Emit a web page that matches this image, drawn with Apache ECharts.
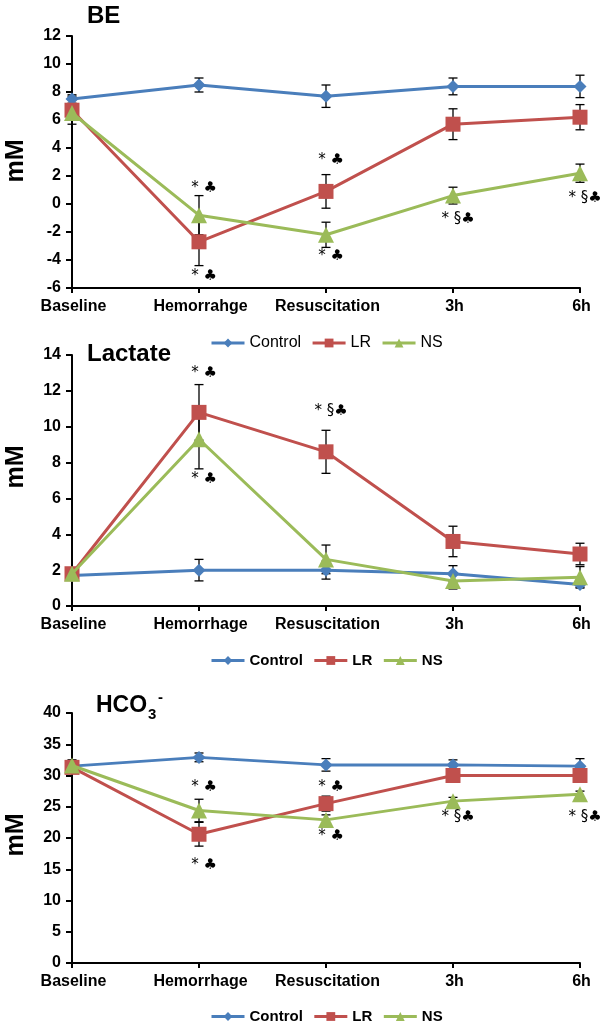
<!DOCTYPE html>
<html><head><meta charset="utf-8">
<script src="https://cdn.jsdelivr.net/npm/echarts@6/dist/echarts.min.js"></script>
<style>html,body{margin:0;padding:0;background:#fff}#c{width:600px;height:1027px}</style>
</head><body><div id="c"></div>
<script>
// ---- categories ----
const catBE = ['Baseline', 'Hemorrahge', 'Resuscitation', '3h', '6h'];
const catLac = ['Baseline', 'Hemorrhage', 'Resuscitation', '3h', '6h'];
const catHCO = ['Baseline', 'Hemorrhage', 'Resuscitation', '3h', '6h'];
const seriesNames = ['Control', 'LR', 'NS'];

// ---- BE ----
const beControl = [7.5, 8.5, 7.7, 8.4, 8.4];
const beControlErr = [0.3, 0.5, 0.8, 0.6, 0.8];
const beLR = [6.7, -2.7, 0.9, 5.7, 6.2];
const beLRErr = [1.0, 1.7, 1.2, 1.1, 0.9];
const beNS = [6.5, -0.8, -2.2, 0.6, 2.2];
const beNSErr = [0.5, 1.4, 0.9, 0.6, 0.65];
const beAxis = [-6, 12, 2];
const beNotes = [[1, 1.1], [1, -5.15], [2, 3.15], [2, -3.7], [3, -1.1], [4, 0.4]];
const beNoteText = ['* \u2663', '* \u2663', '* \u2663', '* \u2663', '* \u00a7\u2663', '* \u00a7\u2663'];

// ---- Lactate ----
const lacControl = [1.7, 2.0, 2.0, 1.8, 1.2];
const lacControlErr = [0.2, 0.6, 0.5, 0.45, 0.15];
const lacLR = [1.8, 10.8, 8.6, 3.6, 2.9];
const lacLRErr = [0.2, 1.55, 1.2, 0.85, 0.6];
const lacNS = [1.8, 9.3, 2.6, 1.4, 1.6];
const lacNSErr = [0.2, 1.65, 0.8, 0.45, 0.6];
const lacAxis = [0, 14, 2];
const lacNotes = [[1, 13.0], [1, 7.1], [2, 10.85]];
const lacNoteText = ['* \u2663', '* \u2663', '* \u00a7\u2663'];

// ---- HCO3- ----
const hcoControl = [31.5, 32.9, 31.7, 31.7, 31.5];
const hcoControlErr = [1.0, 0.7, 1.0, 0.8, 1.2];
const hcoLR = [31.3, 20.6, 25.5, 30.0, 30.0];
const hcoLRErr = [0.8, 1.9, 1.2, 0.5, 0.5];
const hcoNS = [31.6, 24.4, 22.9, 25.9, 27.0];
const hcoNSErr = [0.8, 1.8, 0.8, 0.6, 0.5];
const hcoAxis = [0, 40, 5];
const hcoNotes = [[1, 28.2], [1, 15.7], [2, 28.2], [2, 20.3], [3, 23.4], [4, 23.4]];
const hcoNoteText = ['* \u2663', '* \u2663', '* \u2663', '* \u2663', '* \u00a7\u2663', '* \u00a7\u2663'];

// ---- styling ----
const colors = ['#4A7EBB', '#C0504D', '#9BBB59'];
const symbols = ['diamond', 'rect', 'triangle'];
const symbolSizes = [13, 15, 16];
const FONT = 'Liberation Sans, Arial, sans-serif';

const panels = [
  {cats: catBE, vals: [beControl, beLR, beNS], errs: [beControlErr, beLRErr, beNSErr], axis: beAxis, notes: beNotes, noteText: beNoteText, top: 36, height: 252},
  {cats: catLac, vals: [lacControl, lacLR, lacNS], errs: [lacControlErr, lacLRErr, lacNSErr], axis: lacAxis, notes: lacNotes, noteText: lacNoteText, top: 355, height: 251},
  {cats: catHCO, vals: [hcoControl, hcoLR, hcoNS], errs: [hcoControlErr, hcoLRErr, hcoNSErr], axis: hcoAxis, notes: hcoNotes, noteText: hcoNoteText, top: 713, height: 250}
];

const grids = [], xAxes = [], yAxes = [], series = [];
panels.forEach((p, i) => {
  grids.push({left: 72, right: 20, top: p.top, height: p.height});
  xAxes.push({
    type: 'category', gridIndex: i, data: p.cats, boundaryGap: false,
    axisLine: {onZero: false, lineStyle: {color: '#000', width: 2}},
    axisTick: {show: true, alignWithLabel: true, length: 5, lineStyle: {color: '#000', width: 2}},
    axisLabel: {color: '#000', fontWeight: 'bold', fontSize: 16, fontFamily: FONT, margin: 11, interval: 0, padding: [0, 0, 0, 3]},
    splitLine: {show: false}
  });
  yAxes.push({
    type: 'value', gridIndex: i, min: p.axis[0], max: p.axis[1], interval: p.axis[2],
    axisLine: {show: true, lineStyle: {color: '#000', width: 2}},
    axisTick: {show: true, length: 6, lineStyle: {color: '#000', width: 2}},
    axisLabel: {color: '#000', fontWeight: 'bold', fontSize: 16, fontFamily: FONT, margin: 11},
    splitLine: {show: false}
  });
  // error bars
  p.vals.forEach((vals, s) => {
    const err = p.errs[s];
    series.push({
      type: 'custom', name: 'err' + i + s, xAxisIndex: i, yAxisIndex: i, z: 1, silent: true,
      data: vals.map((v, k) => [k, v - err[k], v + err[k]]),
      encode: {x: 0, y: [1, 2]},
      renderItem: function (params, api) {
        const x = api.value(0);
        const a = api.coord([x, api.value(2)]);
        const b = api.coord([x, api.value(1)]);
        const w = 4.5;
        const st = {stroke: '#000', lineWidth: 1.3};
        return {type: 'group', children: [
          {type: 'line', shape: {x1: a[0], y1: a[1], x2: b[0], y2: b[1]}, style: st},
          {type: 'line', shape: {x1: a[0] - w, y1: a[1], x2: a[0] + w, y2: a[1]}, style: st},
          {type: 'line', shape: {x1: b[0] - w, y1: b[1], x2: b[0] + w, y2: b[1]}, style: st}
        ]};
      }
    });
  });
  // lines
  p.vals.forEach((vals, s) => {
    series.push({
      type: 'line', name: seriesNames[s], xAxisIndex: i, yAxisIndex: i, z: 3 + s,
      data: vals, symbol: symbols[s], symbolSize: symbolSizes[s], showAllSymbol: true,
      lineStyle: {color: colors[s], width: 3},
      itemStyle: {color: colors[s]},
      emphasis: {disabled: true}
    });
  });
  // annotations
  series.push({
    type: 'custom', name: 'notes' + i, xAxisIndex: i, yAxisIndex: i, z: 10, silent: true,
    data: p.notes, encode: {x: 0, y: 1},
    renderItem: function (params, api) {
      const c = api.coord([api.value(0), api.value(1)]);
      return {type: 'text', x: c[0] + 5, y: c[1], style: {
        text: p.noteText[params.dataIndex], fill: '#000', fontSize: 15,
        fontFamily: 'DejaVu Sans, sans-serif', align: 'center', verticalAlign: 'middle'
      }};
    }
  });
});

const legendCommon = {
  data: seriesNames, itemWidth: 33, itemHeight: 11, itemGap: 10, left: 210, padding: 0,
  selectedMode: false, lineStyle: {width: 3}
};

const option = {
  animation: false,
  backgroundColor: '#fff',
  grid: grids, xAxis: xAxes, yAxis: yAxes, series: series,
  title: [
    {text: 'BE', left: 87, top: 4, padding: 0, textStyle: {fontSize: 24, fontWeight: 'bold', color: '#000', fontFamily: FONT}},
    {text: 'Lactate', left: 87, top: 342, padding: 0, textStyle: {fontSize: 24, fontWeight: 'bold', color: '#000', fontFamily: FONT}}
  ],
  legend: [
    Object.assign({}, legendCommon, {top: 335, textStyle: {fontSize: 16, color: '#000', fontFamily: FONT}}),
    Object.assign({}, legendCommon, {top: 653, textStyle: {fontSize: 15, fontWeight: 'bold', color: '#000', fontFamily: FONT}}),
    Object.assign({}, legendCommon, {top: 1009, textStyle: {fontSize: 15, fontWeight: 'bold', color: '#000', fontFamily: FONT}})
  ],
  graphic: [
    {type: 'text', x: 96, y: 694, style: {text: 'HCO', fontSize: 23, fontWeight: 'bold', fill: '#000', fontFamily: FONT}},
    {type: 'text', x: 148, y: 707, style: {text: '3', fontSize: 15, fontWeight: 'bold', fill: '#000', fontFamily: FONT}},
    {type: 'text', x: 158, y: 690, style: {text: '-', fontSize: 15, fontWeight: 'bold', fill: '#000', fontFamily: FONT}},
    {type: 'text', x: 16, y: 161, rotation: Math.PI / 2, style: {text: 'mM', fontSize: 25, fontWeight: 'bold', fill: '#000', fontFamily: FONT, align: 'center', verticalAlign: 'middle'}},
    {type: 'text', x: 16, y: 467, rotation: Math.PI / 2, style: {text: 'mM', fontSize: 25, fontWeight: 'bold', fill: '#000', fontFamily: FONT, align: 'center', verticalAlign: 'middle'}},
    {type: 'text', x: 16, y: 835, rotation: Math.PI / 2, style: {text: 'mM', fontSize: 25, fontWeight: 'bold', fill: '#000', fontFamily: FONT, align: 'center', verticalAlign: 'middle'}}
  ]
};
const chart = echarts.init(document.getElementById('c'), null, {renderer: 'canvas'});
chart.setOption(option);
</script>
</body></html>
